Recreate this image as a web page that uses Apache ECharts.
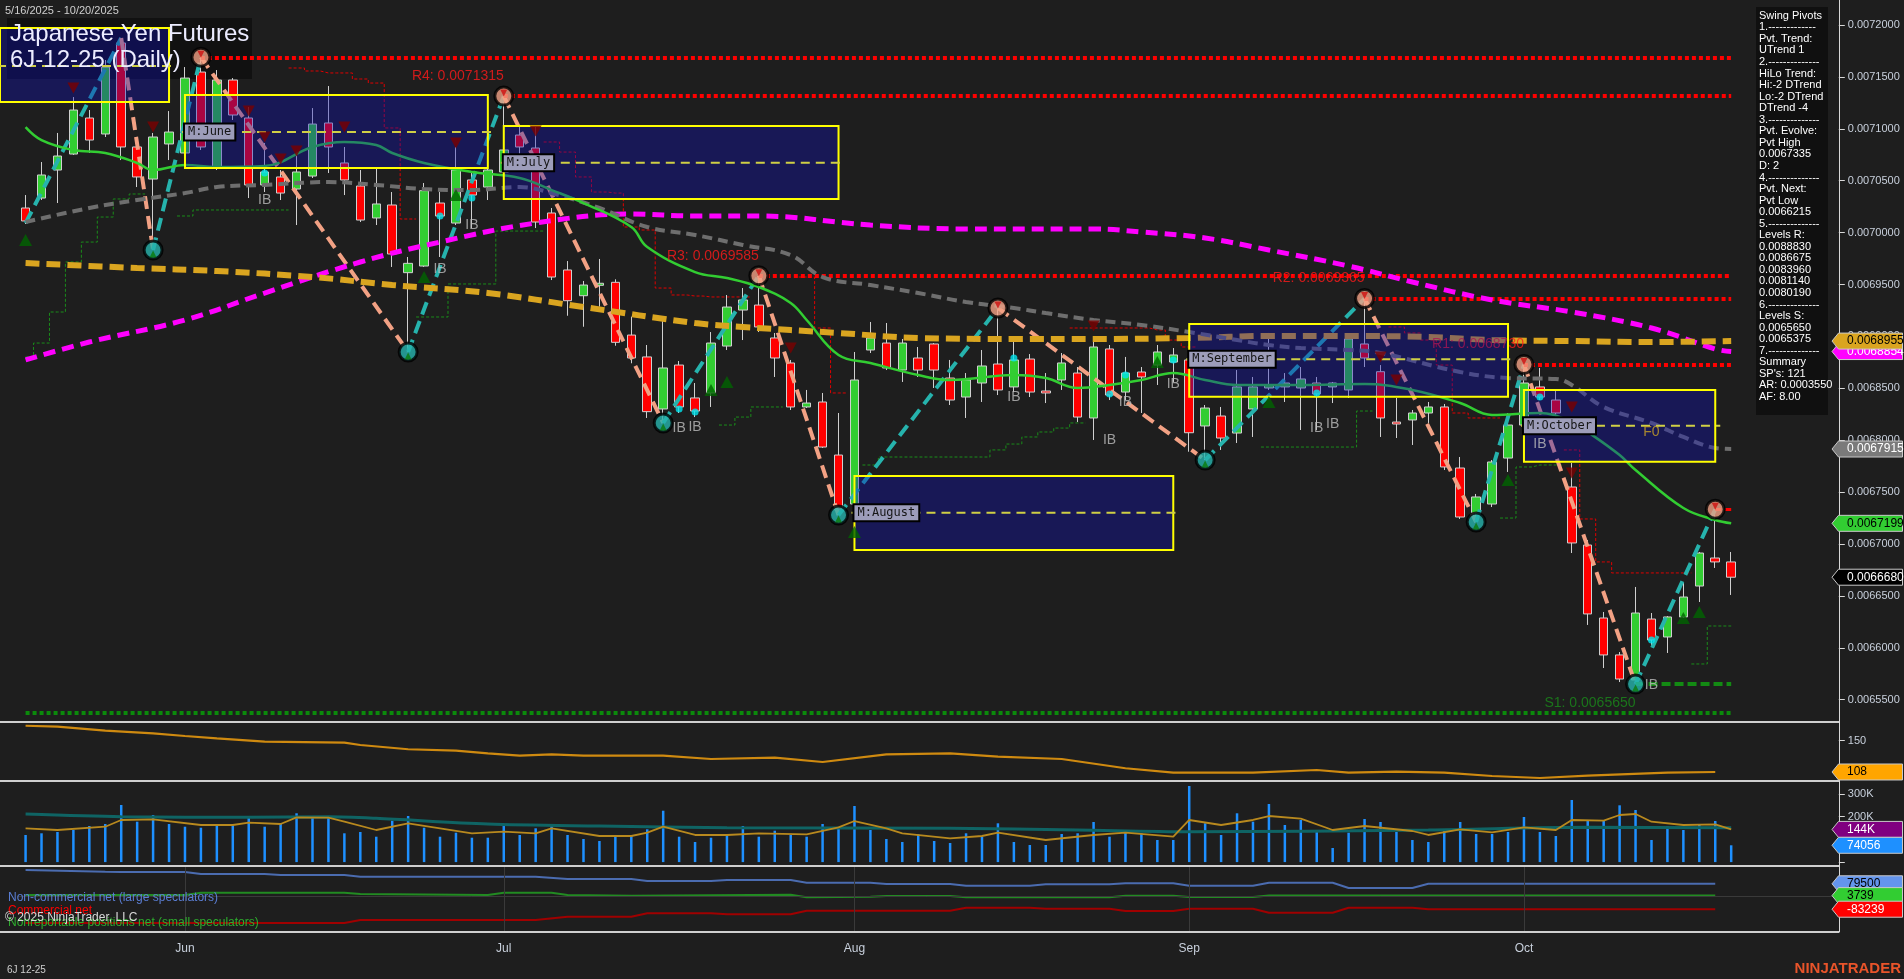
<!DOCTYPE html>
<html><head><meta charset="utf-8">
<script src="https://cdn.jsdelivr.net/npm/echarts@6.0.0/dist/echarts.min.js"></script>
<style>html,body{margin:0;padding:0;background:#1e1e1e;overflow:hidden}#c{width:1904px;height:979px}</style>
</head><body><div id="c"></div>
<script>
// ---------- DATA (prices in units of 1e-7) ----------
const mayDays=[16,19,20,21,22,23,27,28,29,30];
const junDays=[2,3,4,5,6,9,10,11,12,13,16,17,18,20,23,24,25,26,27,30];
const julDays=[1,2,3,7,8,9,10,11,14,15,16,17,18,21,22,23,24,25,28,29,30,31];
const augDays=[1,4,5,6,7,8,11,12,13,14,15,18,19,20,21,22,25,26,27,28,29];
const sepDays=[2,3,4,5,8,9,10,11,12,15,16,17,18,19,22,23,24,25,26,29,30];
const octDays=[1,2,3,6,7,8,9,10,13,14,15,16,17,20];
const monthNames={'05':'May','06':'Jun','07':'Jul','08':'Aug','09':'Sep','10':'Oct'};

const open=[70237,70333,70603,70757,71104,70950,71827,70825,70516,70854,
70767,71547,70632,71470,71104,70459,70536,70420,70545,71056,
70671,70449,70141,70266,69614,69678,70285,70092,70507,70439,
70584,70940,70815,70189,69640,69392,69492,69521,69013,68802,
68301,68724,68407,68455,68907,69254,69302,68985,68744,68320,
68368,67857,67385,68869,68936,68676,68792,68927,68599,68416,
68551,68734,68513,68782,68474,68580,68647,68214,68879,68464,
68657,68724,68753,68773,68137,68233,68069,68301,68503,68513,
68503,68551,68513,68484,68927,68660,68175,68195,68262,68320,
67732,67299,67385,67828,68146,68513,68387,67549,66990,66287,
65931,65690,66277,66104,66297,66595,66865,66827];
const high=[70362,70680,70960,71306,71181,71663,71875,70892,70960,71171,
71595,71690,71566,71489,71210,70863,70603,70767,71200,71412,
70825,70603,70622,70391,69765,70478,70391,70825,70584,70892,
71315,71037,71017,70237,69726,69534,69746,69550,69190,68917,
69168,68763,68551,69042,69399,69466,69585,69033,68773,68484,
68455,68262,68850,69139,69129,68975,68898,68936,68773,68647,
68869,69274,68994,68830,68647,68840,68705,68994,68917,68802,
68705,68917,68888,68802,68339,68320,68676,68609,69033,68647,
68705,68609,68561,68985,69365,68724,68407,68291,68368,68349,
67838,67482,67809,68262,68730,68696,68484,67780,67038,66345,
65959,66586,66335,66306,66624,66923,67335,66923];
const low=[70083,70314,70285,70748,70767,70921,70699,70439,69832,70699,
70632,70796,70603,71085,70333,70391,70314,70073,70526,70574,
70362,70102,70073,69669,68850,69669,69765,70073,70044,70314,
70555,70603,70044,69543,69199,69093,69286,68910,68741,68214,
68166,68262,68223,68320,68869,68965,69042,68609,68291,68310,
67925,67279,67308,68840,68676,68561,68609,68503,68339,68214,
68368,68435,68464,68416,68358,68484,68175,68002,68387,68387,
68262,68532,68561,67889,67809,67906,67973,68031,68484,68368,
68098,68098,68358,68407,68705,68031,68021,67954,68166,67713,
67241,67212,67356,67694,68098,68387,68223,66913,66220,65805,
65670,65650,66008,65950,66287,66441,66769,66509];
const close=[70112,70555,70738,71181,70892,71595,70825,70536,70921,70969,
71489,70825,71470,71133,70459,70584,70381,70584,71046,70825,
70507,70121,70276,69794,69704,70404,70160,70603,70362,70603,
70796,70825,70102,69572,69344,69495,69512,68943,68792,68275,
68696,68320,68281,68936,69283,69351,69091,68792,68320,68358,
67934,67328,68580,68985,68696,68936,68676,68676,68387,68580,
68715,68484,68773,68464,68455,68744,68223,68898,68435,68647,
68609,68850,68821,68072,68310,68021,68513,68513,68532,68551,
68590,68445,68551,68975,68792,68214,68156,68262,68320,67742,
67260,67453,67790,68146,68551,68416,68262,67010,66326,65931,
65699,66335,66075,66297,66489,66913,66827,66680];

// moving averages read at sample bars [barIndex, price]
const maFast=[[0,71017],[1,70892],[3,70796],[5,70767],[7,70671],[8,70603],[10,70651],[12,70632],[15,70642],[18,70825],[20,70873],[22,70844],[23,70767],[25,70671],[28,70584],[31,70526],[33,70410],[35,70285],[38,70054],[39,69861],[42,69620],[44,69563],[46,69476],[48,69322],[49,69158],[51,68821],[53,68744],[56,68628],[58,68580],[62,68628],[64,68599],[66,68503],[68,68532],[70,68580],[72,68647],[74,68580],[76,68532],[78,68532],[80,68532],[84,68541],[87,68484],[90,68358],[92,68243],[95,68262],[97,68175],[98,68079],[100,67857],[101,67713],[104,67347],[106,67231],[107,67199]];
const maGray=[[0,70102],[4,70237],[7,70314],[10,70381],[12,70439],[15,70459],[19,70487],[22,70459],[25,70420],[28,70410],[31,70439],[33,70381],[36,70237],[39,70054],[42,69977],[45,69881],[48,69784],[50,69572],[53,69495],[56,69418],[59,69331],[62,69274],[64,69225],[67,69158],[70,69110],[73,69042],[76,68965],[78,68917],[80,68888],[83,68869],[85,68840],[90,68657],[93,68599],[96,68590],[97,68532],[99,68320],[102,68166],[104,68031],[106,67925],[107,67915]];
const maGold=[[0,69707],[7,69659],[12,69630],[18,69572],[23,69495],[29,69418],[35,69283],[42,69129],[45,69091],[51,69033],[56,68985],[62,68975],[67,68975],[73,68985],[78,69004],[83,69004],[88,68994],[92,68965],[97,68955],[102,68946],[107,68955]];
const maMagenta=[[0,68773],[4,68946],[10,69158],[15,69418],[21,69717],[26,69909],[32,70092],[38,70179],[42,70160],[46,70160],[53,70073],[59,70035],[67,70035],[70,70006],[74,69948],[78,69832],[83,69678],[87,69524],[92,69351],[97,69235],[102,69081],[106,68879],[107,68854]];

// swing pivots [barIndex, price]
const zigzag=[[0,70092],[6,71875],[8,69832],[11,71690],[24,68850],[30,71315],[40,68166],[46,69585],[51,67279],[61,69274],[74,67809],[84,69365],[91,67212],[94,68730],[101,65650],[106,67335]];

// trailing stops (segments of [barIndex, price])
const redStop=[
 [[17,71586],[18,71557],[19,71538],[20,71538],[21,71480],[22,71441],[23,71008],[24,70131]],
 [[33,70873],[34,70776],[35,70536],[36,70391],[37,70381],[38,70054],[39,70025],[40,69466],[41,69399],[42,69389],[43,69380],[44,69380],[45,69380]],
 [[49,69572],[50,69081],[51,68455]],
 [[66,69081],[67,69081],[68,69081],[69,69081],[70,69081],[71,69062],[72,68965],[73,68898]],
 [[86,69091],[87,69033],[88,68965],[89,68724],[90,68262],[91,68214],[92,68214]],
 [[97,67906],[98,67241],[99,66827],[100,66721],[101,66721],[102,66721],[103,66721],[104,66721]]];
const greenStop=[
 [[0,68802],[1,68936],[2,69235],[3,69717],[4,69909],[5,70150],[6,70324],[7,70372]],
 [[10,70160],[11,70218],[12,70218],[13,70218],[14,70218],[15,70218],[16,70218]],
 [[25,69187],[26,69187],[27,69505],[28,69505],[29,69505],[30,70015],[31,70015],[32,70015]],
 [[44,68146],[45,68223],[46,68320],[47,68320]],
 [[53,67761],[54,67838],[55,67838],[56,67838],[57,67838],[58,67838],[59,67838],[60,67838],[61,67906],[62,67963],[63,68031],[64,68079],[65,68117],[66,68166]],
 [[78,67934],[79,67934],[80,67934],[81,67934],[82,67934],[83,67934],[84,68281]],
 [[93,67250],[94,67742],[95,67761],[96,67761]],
 [[105,65844],[106,66210],[107,66210]]];

// resistance / support levels [startBar, price, label]
const resLevels=[[11,71685,''],[30,71315,'R4: 0.0071315'],[46,69585,'R3: 0.0069585'],[84,69365,'R2: 0.0069365'],[94,68730,'R1: 0.0068730']];
const supS1=[101,65650,'S1: 0.0065650'];
const supS2=[0,65375];
const lastHighMark=[106,67335];
const lastPrice=66680;

// monthly boxes [startBar, endBar, top, bottom, mid]
const boxes=[[-2,9,71971,71258,71605],[10,29,71326,70622,70969],[30,51,71027,70324,70673],[52,72,67655,66942,67301],[73,93,69119,68419,68779],[94,106,68484,67793,68140]];
const boxLabels=['','M:June','M:July','M:August','M:September','M:October'];

// markers [barIndex, price]
const upTri=[[0,69929],[25,69572],[27,70362],[43,68484],[44,68561],[52,67116],[71,68753],[78,68368],[93,67617],[104,66287],[105,66345]];
const downTri=[[3,71393],[8,71017],[14,71171],[15,70921],[16,70709],[17,70786],[20,71017],[27,70863],[32,70979],[48,68888],[67,69100],[85,68802],[86,68580],[97,68320],[97,67684]];
const cyanDots=[[15,70574],[26,70160],[28,70333],[41,68301],[42,68272],[62,68791],[68,68445],[69,68628],[72,68773],[81,68455],[95,68416],[102,66075]];
const ibMarks=[[15,70314],[28,70073],[26,69649],[41,68118],[42,68127],[62,68416],[68,68002],[69,68368],[72,68541],[81,68118],[82,68156],[95,67963],[102,65642]];
const f0Mark=[102,68079];

// indicator panel (orange)
const osc=[[0,170.1],[2,168.8],[5,163.4],[8,159.9],[10,156.3],[12,153.2],[15,148.7],[20,147.3],[21,144.2],[24,138.5],[27,136.6],[29,133.1],[31,129.9],[33,131.7],[35,129.9],[40,129.9],[43,125.4],[47,127.2],[50,121.4],[54,131.7],[58,133.1],[61,128.5],[65,125.4],[69,113.0],[72,107.1],[77,107.1],[81,110.7],[83,107.1],[86,108.4],[89,107.1],[92,102.6],[95,99.9],[98,103.0],[103,107.1],[106,108]];

// volume (thousands)
const volume=[119.4,126.9,132.6,141.4,159,167.8,251.5,178,207.5,167.8,
155.9,151.5,162.1,162.1,197.3,155.9,167.8,215,203,197.3,
126.9,132.6,111.9,182.4,203,151.5,111.9,129.5,107.5,107.5,
159,119.4,148.9,159,119.4,101.8,92.9,115,115,144.5,
226.4,111.9,88.5,107.5,123.8,159,111.9,138.3,119.4,111.9,
167.8,148.9,247.1,141.4,101.8,88.5,122.5,92.9,84.1,126.9,
111.9,170.9,88.5,75.3,75.3,123.8,126.9,176.6,111.9,132.6,
126.9,97.4,97.4,335.2,170.9,119.4,215,178,255.9,163.4,
185.5,132.6,62.1,129.5,189.9,176.6,132.6,97.4,88.5,144.5,
176.6,123.8,123.8,132.6,198.7,132.6,115,273.6,185.5,181,
250.2,229.5,97.4,159,141.4,167.8,181,74.056];
const volTeal=[[0,211.9],[6,200],[14,197.3],[19,200],[22,193],[29,167.8],[36,159],[44,151.5],[58,148.9],[66,141.4],[73,133.9],[88,141.4],[98,153.3],[107,151.5]];
const volGold=[[0,148.9],[2,141.4],[5,155.9],[6,185.5],[8,188.5],[11,163.4],[13,163.4],[14,173.6],[16,167.8],[17,197.3],[19,195.6],[20,178],[22,141.4],[24,170.9],[26,148.9],[28,126.9],[30,133.9],[32,126.9],[33,148.9],[36,115],[38,115],[39,129.5],[40,155.9],[42,119.4],[44,119.4],[46,126.9],[49,122.5],[51,153.3],[52,181],[54,148.9],[55,126.9],[58,104.8],[60,115],[61,129.5],[64,97.4],[67,119.4],[69,129.5],[72,111.9],[73,185.5],[75,163.4],[77,185.5],[78,203],[80,191.2],[82,141.4],[84,159],[87,137],[88,119.4],[90,144.5],[92,131.3],[94,153.3],[96,141.4],[97,185.5],[99,182.4],[100,207.5],[101,211.9],[102,178],[104,163.4],[106,166.5],[107,144]];

// COT net positions (thousands)
const cotNonCommercial=[[0,167.7],[5,156.8],[6,154.9],[10,154.9],[11,142.1],[15,142.1],[16,135.7],[20,135.7],[21,124.8],[32,124.8],[34,110.1],[38,110.1],[39,97.3],[43,97.3],[44,103.7],[48,103.7],[49,86.4],[53,86.4],[54,78.1],[58,78.1],[59,67.2],[63,67.2],[64,76.2],[68,76.2],[69,82.6],[72,82.6],[73,67.2],[77,67.2],[78,86.4],[82,86.4],[83,52.5],[87,52.5],[88,79.5],[106,79.5]];
const cotSmall=[[0,7.7],[10,7.7],[11,22.4],[20,22.4],[21,14.1],[29,7.7],[30,22.4],[33,22.4],[34,7.7],[38,3.2],[48,9.6],[49,-7],[53,-3.2],[54,1.3],[58,1.3],[59,-7],[68,-7],[69,3.2],[72,3.2],[73,-5.1],[77,-5.1],[78,3.739],[106,3.739]];
const cotCommercial=[[0,-171.5],[20,-171.5],[21,-152.3],[32,-152.3],[34,-131.2],[38,-131.2],[39,-109.4],[43,-109.4],[44,-115.8],[48,-115.8],[49,-92.8],[58,-92.8],[59,-73.6],[63,-73.6],[64,-80],[68,-80],[69,-94.7],[72,-94.7],[73,-80],[77,-80],[78,-105.6],[82,-105.6],[83,-73.6],[87,-73.6],[88,-83.239],[106,-83.239]];

const priceTicks=[0.00655,0.0066,0.00665,0.0067,0.00675,0.0068,0.00685,0.0069,0.00695,0.007,0.00705,0.0071,0.00715,0.0072];
const tags=[
 {axis:0,v:0.0068854,t:'0.0068854',bg:'#ff00ff',fg:'#ffffff'},
 {axis:0,v:0.0068955,t:'0.0068955',bg:'#daa520',fg:'#000000'},
 {axis:0,v:0.0067915,t:'0.0067915',bg:'#7a7a7a',fg:'#ffffff'},
 {axis:0,v:0.0067199,t:'0.0067199',bg:'#32cd32',fg:'#000000'},
 {axis:0,v:0.0066680,t:'0.0066680',bg:'#000000',fg:'#ffffff'},
 {axis:1,v:108,t:'108',bg:'#ffa500',fg:'#000000'},
 {axis:2,v:144000,t:'144K',bg:'#800080',fg:'#ffffff'},
 {axis:2,v:74056,t:'74056',bg:'#1e90ff',fg:'#ffffff'},
 {axis:3,v:79500,t:'79500',bg:'#6495ed',fg:'#000000'},
 {axis:3,v:3739,t:'3739',bg:'#32cd32',fg:'#000000'},
 {axis:3,v:-83239,t:'-83239',bg:'#ff0000',fg:'#ffffff'}];
const pivotText=['Swing Pivots','1.-------------','Pvt. Trend:','UTrend 1','2.--------------','HiLo Trend:','Hi:-2 DTrend','Lo:-2 DTrend','DTrend -4','3.--------------','Pvt. Evolve:','Pvt High','0.0067335','D: 2','4.--------------','Pvt. Next:','Pvt Low','0.0066215','5.--------------','Levels R:','0.0088830','0.0086675','0.0083960','0.0081140','0.0080190','6.--------------','Levels S:','0.0065650','0.0065375','7.--------------','Summary',"SP's: 121",'AR: 0.0003550','AF: 8.00'];

// ---------- BUILD ----------
const S=1e-7;
const dates=[];
[['05',mayDays],['06',junDays],['07',julDays],['08',augDays],['09',sepDays],['10',octDays]].forEach(([m,ds])=>ds.forEach(d=>dates.push('2025-'+m+'-'+String(d).padStart(2,'0'))));
const NB=dates.length;
const cats=dates.concat(['p1','p2','p3','p4','p5','p6']);
const monthStart=new Set();
for(let i=1;i<NB;i++){ if(dates[i].slice(5,7)!==dates[i-1].slice(5,7)) monthStart.add(i); }
const isMS=(idx)=>monthStart.has(idx);

const P=a=>a.map(([i,v])=>[i,v*S]);
const K=a=>a.map(([i,v])=>[i,v*1000]);
const stepArr=segs=>{const a=new Array(NB).fill(null);segs.forEach(sg=>sg.forEach(([i,v])=>a[i]=v*S));return a;};
const candles=open.map((o,i)=>[o*S,close[i]*S,low[i]*S,high[i]*S]);

const zzSegs=[];
for(let k=0;k<zigzag.length-1;k++){
  const a=zigzag[k],b=zigzag[k+1];
  zzSegs.push({coords:[[a[0],a[1]*S],[b[0],b[1]*S]],lineStyle:{color:b[1]>a[1]?'#26b3ad':'#f2a184'}});
}
const lvlLines=resLevels.map(([i,v])=>({coords:[[i,v*S],[NB-1,v*S]]}));

const FONT='"Liberation Sans", Arial, sans-serif';
const NARROW='"Liberation Sans Narrow", "Liberation Sans", Arial, sans-serif';
const AX='#c8d0dc';
const gridL=17.6, gridW=1817.2;

function renderBox(params, api){
  const a=api.coord([api.value(0),api.value(2)]);
  const b=api.coord([api.value(1),api.value(3)]);
  const m=api.coord([api.value(1),api.value(4)]);
  const x0=Math.max(a[0],0), x1=b[0], y0=a[1], y1=b[1], ym=m[1];
  const ch=[
    {type:'rect',shape:{x:x0,y:y0,width:x1-x0,height:y1-y0},style:{fill:'rgba(15,15,185,0.36)',stroke:'#ffff00',lineWidth:2}},
    {type:'line',shape:{x1:x0-3,y1:ym,x2:x1+5,y2:ym},style:{stroke:'#cfcf45',lineWidth:2,lineDash:[9,6]}}
  ];
  const lab=boxLabels[params.dataIndex];
  if(lab) ch.push({type:'text',x:x0,y:ym,style:{text:lab,fill:'#161616',font:'12px "DejaVu Sans Mono", monospace',backgroundColor:'#9d9dba',borderColor:'#000',borderWidth:2,padding:[2,3,1,3],verticalAlign:'middle',align:'left'}});
  return {type:'group',children:ch};
}

const xAxes=[0,1,2,3].map(g=>({
  type:'category',gridIndex:g,data:cats,boundaryGap:true,
  axisLine:{show:false},
  axisTick:g===3?{show:true,interval:isMS,alignWithLabel:true,length:7,lineStyle:{color:'#d0d0d0'}}:{show:false},
  axisLabel:g===3?{show:true,interval:isMS,formatter:v=>monthNames[v.slice(5,7)]||'',color:AX,fontSize:12,fontFamily:NARROW,margin:11}:{show:false},
  splitLine:{show:false}
}));
const yBase={position:'right',offset:4,axisLine:{show:true,lineStyle:{color:'#d8d8d8',width:1}},splitLine:{show:false}};
const yAxes=[
  Object.assign({},yBase,{gridIndex:0,type:'value',min:0.0065285,max:0.0072241,
    axisTick:{show:true,length:6,customValues:priceTicks,lineStyle:{color:'#d8d8d8'}},
    axisLabel:{customValues:priceTicks,formatter:v=>v.toFixed(7),color:AX,fontSize:11,fontFamily:FONT,margin:9}}),
  Object.assign({},yBase,{gridIndex:1,type:'value',min:95.9,max:175.1,
    axisTick:{show:true,length:6,customValues:[150],lineStyle:{color:'#d8d8d8'}},
    axisLabel:{customValues:[150],color:AX,fontSize:11,fontFamily:FONT,margin:9}}),
  Object.assign({},yBase,{gridIndex:2,type:'value',min:-17200,max:357300,
    axisTick:{show:true,length:6,customValues:[0,100000,200000,300000],lineStyle:{color:'#d8d8d8'}},
    axisLabel:{customValues:[100000,200000,300000],formatter:v=>(v/1000)+'K',color:AX,fontSize:11,fontFamily:FONT,margin:9}}),
  Object.assign({},yBase,{gridIndex:3,type:'value',min:-229100,max:193300,axisTick:{show:false},axisLabel:{show:false}})
];

const series=[
  {type:'line',name:'redStop',data:stepArr(redStop),step:'middle',symbol:'none',connectNulls:false,z:2,lineStyle:{color:'#e00000',width:1,type:[3,2]}},
  {type:'line',name:'greenStop',data:stepArr(greenStop),step:'middle',symbol:'none',connectNulls:false,z:2,lineStyle:{color:'#1a8c1a',width:1,type:[3,2]}},
  {type:'candlestick',data:candles,barWidth:9,z:3,
    itemStyle:{color:'#32cd32',color0:'#ff0000',borderColor:'#d0d0d0',borderColor0:'#d0d0d0',borderWidth:1},
    markLine:{silent:true,symbol:'none',label:{show:false},lineStyle:{color:'#9a9a9a',type:[10,3,2,3],width:1.5},data:[{yAxis:lastPrice*S}]}},
  {type:'line',data:P(maMagenta),smooth:0.4,symbol:'none',z:4,lineStyle:{color:'#ff00ff',width:5,type:[12,7]}},
  {type:'line',data:P(maGold),smooth:0.4,symbol:'none',z:4,lineStyle:{color:'#daa520',width:6,type:[14,7]}},
  {type:'line',data:P(maGray),smooth:0.4,symbol:'none',z:4,lineStyle:{color:'#6e6e6e',width:4,type:[10,6]}},
  {type:'line',data:P(maFast),smooth:0.4,symbol:'none',z:4,lineStyle:{color:'#32cd32',width:2.5}},
  {type:'lines',coordinateSystem:'cartesian2d',data:zzSegs,z:4,lineStyle:{width:4,type:[13,7],opacity:1}},
  {type:'lines',coordinateSystem:'cartesian2d',data:lvlLines,z:4,lineStyle:{color:'#ff0000',width:4,type:[4,3],opacity:1}},
  {type:'lines',coordinateSystem:'cartesian2d',z:4,data:[
      {coords:[[supS2[0],supS2[1]*S],[NB-1,supS2[1]*S]],lineStyle:{color:'#0b8a0b',width:4,type:[4,3]}},
      {coords:[[supS1[0],supS1[1]*S],[NB-1,supS1[1]*S]],lineStyle:{color:'#138a13',width:4,type:[9,4]}},
      {coords:[[lastHighMark[0],lastHighMark[1]*S],[NB-1,lastHighMark[1]*S]],lineStyle:{color:'#ff0000',width:3,type:[6,4]}}],
    lineStyle:{opacity:1}},
  {type:'scatter',symbolSize:0,z:4,data:resLevels.filter(r=>r[2]).map(([i,v,t])=>[i,v*S,t]),
    label:{show:true,position:'left',distance:0,offset:[0,-20],formatter:p=>p.data[2],color:'#ff1a1a',fontSize:14,fontFamily:NARROW}},
  {type:'scatter',symbolSize:0,z:4,data:[[supS1[0],supS1[1]*S,supS1[2]]],
    label:{show:true,position:'left',distance:0,offset:[0,19],formatter:p=>p.data[2],color:'#1a8a1a',fontSize:14,fontFamily:NARROW}},
  {type:'custom',renderItem:renderBox,data:boxes.map(b=>[b[0],b[1],b[2]*S,b[3]*S,b[4]*S]),z:6,silent:true,clip:false},
  {type:'scatter',data:P(upTri),symbol:'triangle',symbolSize:[13,12],z:7,itemStyle:{color:'#006400'}},
  {type:'scatter',data:P(downTri),symbol:'triangle',symbolRotate:180,symbolSize:[12,11],z:7,itemStyle:{color:'#7a0000'}},
  {type:'scatter',data:P(cyanDots),symbol:'circle',symbolSize:7,z:7,itemStyle:{color:'#00e5ee'}},
  {type:'scatter',data:P(ibMarks),symbolSize:0,z:7,label:{show:true,position:'inside',formatter:'IB',color:'#bdbdbd',fontSize:14,fontFamily:NARROW}},
  {type:'scatter',data:[[f0Mark[0],f0Mark[1]*S]],symbolSize:0,z:7,label:{show:true,position:'inside',formatter:'F0',color:'#c9a227',fontSize:14,fontFamily:NARROW}},
  {type:'scatter',data:zigzag.slice(2).map(([i,v],k)=>[i,v*S,zigzag[k+1][1]<v?1:0]),symbol:'circle',symbolSize:18,z:8,
    itemStyle:{color:p=>p.data[2]?'#f2a184':'#26b3ad',borderColor:'#000',borderWidth:3}},
  {type:'scatter',data:zigzag.slice(2).filter(([i,v],k)=>zigzag[k+1][1]<v).map(([i,v])=>[i,v*S]),symbol:'triangle',symbolRotate:180,symbolSize:7,symbolOffset:[0,-3],z:9,itemStyle:{color:'#d01010'}},
  {type:'scatter',data:zigzag.slice(2).filter(([i,v],k)=>zigzag[k+1][1]>v).map(([i,v])=>[i,v*S]),symbol:'triangle',symbolSize:7,symbolOffset:[0,4],z:9,itemStyle:{color:'#0a7a0a'}},
  // panel 1
  {type:'line',xAxisIndex:1,yAxisIndex:1,data:osc,symbol:'none',lineStyle:{color:'#cf8a10',width:2.2}},
  // panel 2 volume
  {type:'bar',xAxisIndex:2,yAxisIndex:2,data:volume.map(v=>v*1000),barWidth:2.5,itemStyle:{color:'#1e90ff'}},
  {type:'line',xAxisIndex:2,yAxisIndex:2,data:K(volTeal),smooth:0.3,symbol:'none',z:3,lineStyle:{color:'#0f6464',width:3}},
  {type:'line',xAxisIndex:2,yAxisIndex:2,data:K(volGold),symbol:'none',z:4,lineStyle:{color:'#b8891e',width:1.8}},
  // panel 3 COT
  {type:'line',xAxisIndex:3,yAxisIndex:3,data:K(cotNonCommercial),symbol:'none',z:3,lineStyle:{color:'#4b6cb0',width:2},
    markLine:{silent:true,symbol:'none',label:{show:false},lineStyle:{color:'#3a3a3a',width:1,type:'solid'},
      data:[{yAxis:0}].concat([...monthStart].map(i=>({xAxis:dates[i]})))}},
  {type:'line',xAxisIndex:3,yAxisIndex:3,data:K(cotSmall),symbol:'none',z:3,lineStyle:{color:'#228b22',width:2}},
  {type:'line',xAxisIndex:3,yAxisIndex:3,data:K(cotCommercial),symbol:'none',z:3,lineStyle:{color:'#a00000',width:2}}
];

const baseGraphic=[
  {type:'rect',id:'tbg',shape:{x:7,y:18,width:245,height:61},style:{fill:'rgba(8,8,8,0.55)'},z:1},
  {type:'text',id:'t1',x:10,y:22,style:{text:'Japanese Yen Futures',fill:'#ececff',font:'24px '+FONT},z:100},
  {type:'text',id:'t2',x:10,y:48,style:{text:'6J-12-25 (Daily)',fill:'#ececff',font:'24px '+FONT},z:100},
  {type:'text',id:'dr',x:5,y:5,style:{text:'5/16/2025 - 10/20/2025',fill:'#cfcfcf',font:'11px '+FONT},z:100},
  {type:'rect',id:'spbg',shape:{x:1756,y:7,width:72,height:408},style:{fill:'#101010'},z:100},
  {type:'text',id:'sptx',x:1759,y:10,style:{text:pivotText.join('\n'),fill:'#ffffff',font:'11px '+FONT,lineHeight:11.55},z:101},
  {type:'line',id:'sep1',shape:{x1:0,y1:722,x2:1839,y2:722},style:{stroke:'#cfcfcf',lineWidth:2},z:50},
  {type:'line',id:'sep2',shape:{x1:0,y1:781,x2:1839,y2:781},style:{stroke:'#cfcfcf',lineWidth:2},z:50},
  {type:'line',id:'sep3',shape:{x1:0,y1:866,x2:1839,y2:866},style:{stroke:'#cfcfcf',lineWidth:2},z:50},
  {type:'line',id:'sep4',shape:{x1:0,y1:932,x2:1839,y2:932},style:{stroke:'#cfcfcf',lineWidth:2},z:50},
  {type:'text',id:'lg1',x:8,y:892,style:{text:'Non-commercial net (large speculators)',fill:'#5b7fd6',font:'12px '+NARROW},z:100},
  {type:'text',id:'lg2',x:8,y:905,style:{text:'Commercial net',fill:'#ff0000',font:'12px '+NARROW},z:100},
  {type:'text',id:'lg3',x:8,y:917,style:{text:'Nonreportable positions net (small speculators)',fill:'#2eae2e',font:'12px '+NARROW},z:100},
  {type:'text',id:'lg4',x:5,y:912,style:{text:'\u00a9 2025 NinjaTrader, LLC',fill:'#d8d8d8',font:'12px '+NARROW},z:101},
  {type:'text',id:'sym',x:7,y:965,style:{text:'6J 12-25',fill:'#cfcfcf',font:'10px '+FONT},z:100},
  {type:'text',id:'nt',x:1901,y:961,style:{text:'NINJATRADER',fill:'#e8542a',font:'bold 15px '+FONT,align:'right'},z:100}
];

const chart=echarts.init(document.getElementById('c'),null,{renderer:'canvas',width:1904,height:979});
chart.setOption({
  backgroundColor:'#1e1e1e',animation:false,
  textStyle:{fontFamily:FONT},
  grid:[
    {left:gridL,width:gridW,top:0,height:722},
    {left:gridL,width:gridW,top:722,height:59},
    {left:gridL,width:gridW,top:781,height:85},
    {left:gridL,width:gridW,top:866,height:66}],
  xAxis:xAxes,yAxis:yAxes,series:series,graphic:baseGraphic
});

const tagG=[];
tags.forEach((t,k)=>{
  const y=chart.convertToPixel({yAxisIndex:t.axis},t.v);
  tagG.push({type:'polygon',id:'tp'+k,shape:{points:[[1832,y],[1838.5,y-8],[1902.5,y-8],[1902.5,y+8],[1838.5,y+8]]},style:{fill:t.bg,stroke:'#c8c8c8',lineWidth:1},z:200+k*2});
  tagG.push({type:'text',id:'tt'+k,x:1847,y:y,style:{text:t.t,fill:t.fg,font:'12px '+FONT,verticalAlign:'middle'},z:201+k*2});
});
chart.setOption({graphic:baseGraphic.concat(tagG)});
</script></body></html>
